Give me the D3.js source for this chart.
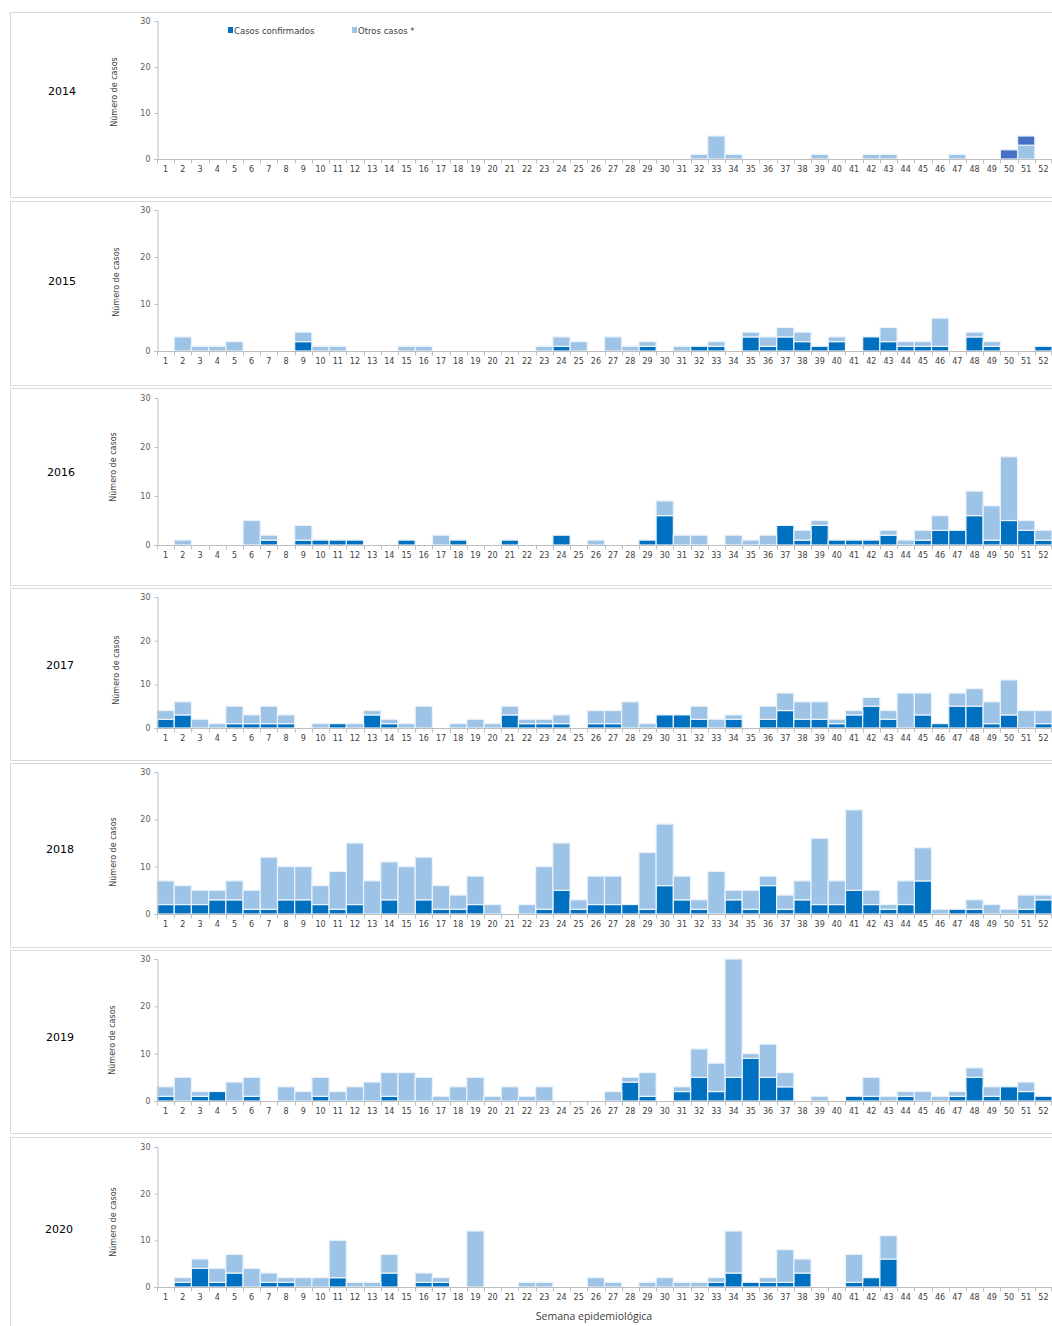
<!DOCTYPE html>
<html>
<head>
<meta charset="utf-8">
<script src="https://cdn.jsdelivr.net/npm/d3@7"></script>
<style>
  body { margin: 0; background: #fff; }
  text { font-family: "DejaVu Sans", Verdana, sans-serif; }
</style>
</head>
<body>
<div id="chart"></div>
<script>
// semanas epidemiologicas 1..52
var weeks = d3.range(1, 53);
var years = ["2014", "2015", "2016", "2017", "2018", "2019", "2020"];

// casos confirmados / otros casos por semana
var confirmados2014 = [0,0,0,0,0,0,0,0,0,0, 0,0,0,0,0,0,0,0,0,0, 0,0,0,0,0,0,0,0,0,0, 0,0,0,0,0,0,0,0,0,0, 0,0,0,0,0,0,0,0,0,2, 2,0];
var otros2014       = [0,0,0,0,0,0,0,0,0,0, 0,0,0,0,0,0,0,0,0,0, 0,0,0,0,0,0,0,0,0,0, 0,1,5,1,0,0,0,0,1,0, 0,1,1,0,0,0,1,0,0,0, 3,0];

var confirmados2015 = [0,0,0,0,0,0,0,0,2,0, 0,0,0,0,0,0,0,0,0,0, 0,0,0,1,0,0,0,0,1,0, 0,1,1,0,3,1,3,2,1,2, 0,3,2,1,1,1,0,3,1,0, 0,1];
var otros2015       = [0,3,1,1,2,0,0,0,2,1, 1,0,0,0,1,1,0,0,0,0, 0,0,1,2,2,0,3,1,1,0, 1,0,1,0,1,2,2,2,0,1, 0,0,3,1,1,6,0,1,1,0, 0,0];

var confirmados2016 = [0,0,0,0,0,0,1,0,1,1, 1,1,0,0,1,0,0,1,0,0, 1,0,0,2,0,0,0,0,1,6, 0,0,0,0,0,0,4,1,4,1, 1,1,2,0,1,3,3,6,1,5, 3,1];
var otros2016       = [0,1,0,0,0,5,1,0,3,0, 0,0,0,0,0,0,2,0,0,0, 0,0,0,0,0,1,0,0,0,3, 2,2,0,2,1,2,0,2,1,0, 0,0,1,1,2,3,0,5,7,13, 2,2];

var confirmados2017 = [2,3,0,0,1,1,1,1,0,0, 1,0,3,1,0,0,0,0,0,0, 3,1,1,1,0,1,1,0,0,3, 3,2,0,2,0,2,4,2,2,1, 3,5,2,0,3,1,5,5,1,3, 0,1];
var otros2017       = [2,3,2,1,4,2,4,2,0,1, 0,1,1,1,1,5,0,1,2,1, 2,1,1,2,0,3,3,6,1,0, 0,3,2,1,0,3,4,4,4,1, 1,2,2,8,5,0,3,4,5,8, 4,3];

var confirmados2018 = [2,2,2,3,3,1,1,3,3,2, 1,2,0,3,0,3,1,1,2,0, 0,0,1,5,1,2,2,2,1,6, 3,1,0,3,1,6,1,3,2,2, 5,2,1,2,7,0,1,1,0,0, 1,3];
var otros2018       = [5,4,3,2,4,4,11,7,7,4, 8,13,7,8,10,9,5,3,6,2, 0,2,9,10,2,6,6,0,12,13, 5,2,9,2,4,2,3,4,14,5, 17,3,1,5,7,1,0,2,2,1, 3,1];

var confirmados2019 = [1,0,1,2,0,1,0,0,0,1, 0,0,0,1,0,0,0,0,0,0, 0,0,0,0,0,0,0,4,1,0, 2,5,2,5,9,5,3,0,0,0, 1,1,0,1,0,0,1,5,1,3, 2,1];
var otros2019       = [2,5,1,0,4,4,0,3,2,4, 2,3,4,5,6,5,1,3,5,1, 3,1,3,0,0,0,2,1,5,0, 1,6,6,25,1,7,3,0,1,0, 0,4,1,1,2,1,1,2,2,0, 2,0];

var confirmados2020 = [0,1,4,1,3,0,1,1,0,0, 2,0,0,3,0,1,1,0,0,0, 0,0,0,0,0,0,0,0,0,0, 0,0,1,3,1,1,1,3,0,0, 1,2,6,0,0,0,0,0,0,0, 0,0];
var otros2020       = [0,1,2,3,4,4,2,1,2,2, 8,1,1,4,0,2,1,0,12,0, 0,1,1,0,0,2,1,0,1,2, 1,1,1,9,0,1,7,3,0,0, 6,0,5,0,0,0,0,0,0,0, 0,0];

var yTicks = [0, 10, 20, 30];
var legendLabels = ["Casos confirmados", "Otros casos *"];

var confirmados = [confirmados2014, confirmados2015, confirmados2016, confirmados2017, confirmados2018, confirmados2019, confirmados2020];
var otros = [otros2014, otros2015, otros2016, otros2017, otros2018, otros2019, otros2020];

// Panel layout: frame top/bottom, plot top/bottom, year label and y title centres
var layout = [
  {top: 12,   bottom: 197,  y30: 21,   y0: 159,  yearX: 62, yearY: 91,   titX: 114, titY: 92},
  {top: 201,  bottom: 385,  y30: 210,  y0: 351,  yearX: 62, yearY: 281,  titX: 116, titY: 282},
  {top: 388,  bottom: 585,  y30: 398,  y0: 545,  yearX: 61, yearY: 472,  titX: 113, titY: 467},
  {top: 588,  bottom: 760,  y30: 597,  y0: 728,  yearX: 60, yearY: 665,  titX: 116, titY: 670},
  {top: 763,  bottom: 947,  y30: 772,  y0: 914,  yearX: 60, yearY: 849,  titX: 113, titY: 852},
  {top: 950,  bottom: 1133, y30: 959,  y0: 1101, yearX: 60, yearY: 1037, titX: 112, titY: 1040},
  {top: 1137, bottom: 1340, y30: 1147, y0: 1287, yearX: 59, yearY: 1229, titX: 113, titY: 1222}
];

var W = 1052, H = 1326;
var colConf = "#0070C0", colOtros = "#9DC3E6", colConf2014 = "#4472C4";
var axisCol = "#BFBFBF", textCol = "#595959";

var svg = d3.select("#chart")
  .append("svg")
    .attr("width", W)
    .attr("height", H);

var x = d3.scaleBand()
  .domain(weeks)
  .range([157, 1052])
  .padding(0);

years.forEach(function(year, i) {
  var L = layout[i];
  var g = svg.append("g").attr("class", "panel");

  // panel frame
  g.append("rect")
    .attr("x", 10.5).attr("y", L.top + 0.5)
    .attr("width", 1100).attr("height", L.bottom - L.top)
    .attr("fill", "none")
    .attr("stroke", "#D9D9D9");

  var y = d3.scaleLinear()
    .domain([0, 30])
    .range([L.y0, L.y30]);

  // stacked data; 2014 stacks otros below confirmados
  var rows = weeks.map(function(w, k) {
    return {week: w, conf: confirmados[i][k], otros: otros[i][k]};
  });
  var keys = i === 0 ? ["otros", "conf"] : ["conf", "otros"];
  var series = d3.stack().keys(keys)(rows);

  g.selectAll(".serie")
    .data(series)
    .enter()
    .append("g")
      .attr("fill", function(d) {
        if (d.key === "otros") return colOtros;
        return i === 0 ? colConf2014 : colConf;
      })
    .selectAll("rect")
    .data(function(d) { return d.filter(function(p) { return p[1] > p[0]; }); })
    .enter()
    .append("rect")
      .attr("x", function(d) { return x(d.data.week); })
      .attr("width", x.bandwidth())
      .attr("y", function(d) { return y(d[1]); })
      .attr("height", function(d) { return y(d[0]) - y(d[1]); })
      .attr("stroke", "#EAF2FA")
      .attr("stroke-width", 1.2);

  // y axis
  var yAxis = d3.axisLeft(y).tickValues(yTicks).tickSize(3).tickPadding(4);
  var ya = g.append("g")
    .attr("transform", "translate(157.5,0)")
    .call(yAxis);
  ya.select(".domain").attr("stroke", axisCol);
  ya.selectAll(".tick line").attr("stroke", axisCol);
  ya.selectAll("text").attr("fill", textCol).style("font-size", "8px");

  // x axis
  var xAxis = d3.axisBottom(x).tickSize(0).tickPadding(7);
  var xa = g.append("g")
    .attr("transform", "translate(0," + (L.y0 + 0.5) + ")")
    .call(xAxis);
  xa.select(".domain").attr("stroke", axisCol).attr("d", "M157,0H1052");
  xa.selectAll("text").attr("fill", "#404040").style("font-size", "8px");
  xa.selectAll(".sep")
    .data(weeks.concat([53]))
    .enter()
    .append("line")
      .attr("class", "sep")
      .attr("x1", function(w) { return w === 53 ? 1051.5 : Math.round(x(w)) + 0.5; })
      .attr("x2", function(w) { return w === 53 ? 1051.5 : Math.round(x(w)) + 0.5; })
      .attr("y1", 0).attr("y2", 4)
      .attr("stroke", axisCol);

  // y title
  g.append("text")
    .attr("transform", "translate(" + L.titX + "," + L.titY + ") rotate(-90)")
    .attr("text-anchor", "middle")
    .attr("dy", "0.35em")
    .attr("fill", "#404040")
    .style("font-size", "8px")
    .text("Número de casos");

  // year label
  g.append("text")
    .attr("x", L.yearX)
    .attr("y", L.yearY)
    .attr("dy", "0.35em")
    .attr("text-anchor", "middle")
    .attr("fill", "#000")
    .style("font-size", "11px")
    .text(year);
});

// legend (2014 panel)
var legend = svg.append("g").attr("class", "legend");
var legX = [228, 352];
legendLabels.forEach(function(lbl, k) {
  legend.append("rect")
    .attr("x", legX[k]).attr("y", 27)
    .attr("width", 5).attr("height", 6)
    .attr("fill", k === 0 ? colConf : colOtros);
  legend.append("text")
    .attr("x", legX[k] + 6).attr("y", 34)
    .attr("fill", "#404040")
    .style("font-size", "8.5px")
    .text(lbl);
});

// x title
svg.append("text")
  .attr("x", 594)
  .attr("y", 1320)
  .attr("text-anchor", "middle")
  .attr("fill", "#404040")
  .style("font-family", "'Open Sans', 'Noto Sans', sans-serif")
  .style("font-size", "10.5px")
  .text("Semana epidemiológica");
</script>
</body>
</html>
